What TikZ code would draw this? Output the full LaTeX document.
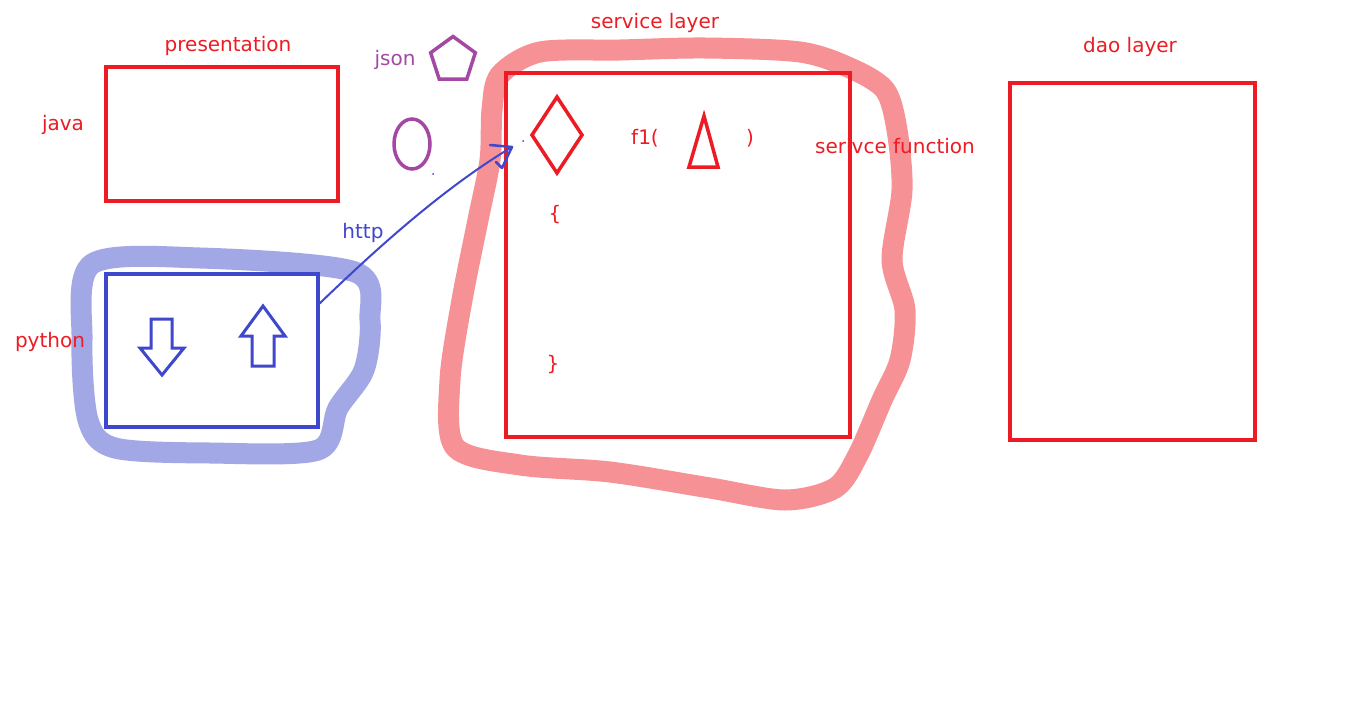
\documentclass[tikz,border=0pt]{standalone}
\usepackage{fontspec}
\setmainfont{DejaVu Sans}
\usetikzlibrary{shapes.geometric}
\definecolor{pred}{HTML}{ED1C24}
\definecolor{pblue}{HTML}{3F48CC}
\definecolor{ppurple}{HTML}{A349A4}
\begin{document}
\begin{tikzpicture}[x=1pt,y=-1pt,
  box/.style={draw=pred,line width=3.5pt},
  lbl/.style={font=\fontsize{20}{24}\selectfont,inner sep=0pt},
  rlabel/.style={lbl,text=pred},
  blabel/.style={lbl,text=pblue},
  plabel/.style={lbl,text=ppurple},
  marker/.style={line cap=round,line join=round,opacity=0.6},
  thinblue/.style={draw=pblue,line width=3pt,line join=miter}]
\useasboundingbox[fill=white] (0,0) rectangle (1360,715);

% red marker loop (service layer)
\draw[marker,draw=pred!80,line width=21pt]
  plot[smooth cycle,tension=0.5] coordinates {(492,110) (500,75) (540,52) (620,50) (705,48) (800,52) (850,68) (885,90) (897,130) (902,190) (892,260) (905,310) (900,360) (882,400) (858,455) (835,488) (785,500) (710,488) (610,472) (520,465) (455,447) (450,380) (462,300) (478,220) (490,160)};
% blue marker loop (python)
\draw[marker,draw=pblue!80,line width=21pt]
  plot[smooth cycle,tension=0.5] coordinates {(92,264) (200,258) (355,272) (370,320) (364,370) (338,408) (318,450) (210,453) (115,448) (88,420) (82,340)};

% presentation boxes
\node[box,minimum width=232pt,minimum height=134pt,inner sep=0pt] (java) at (222,134) {};
\node[draw=pblue,line width=3.5pt,minimum width=212pt,minimum height=153pt,inner sep=0pt] (python) at (212,350.5) {};
\node[box,minimum width=344pt,minimum height=364pt,inner sep=0pt] (service) at (678,255) {};
\node[box,minimum width=245pt,minimum height=357pt,inner sep=0pt] (dao) at (1132.5,261.5) {};

% labels
\node[rlabel] (tpres) at (228,46) {presentation};
\node[rlabel] (tjava) at (63,125) {java};
\node[rlabel] (tpy) at (50,342) {python};
\node[rlabel] (tserv) at (655,23) {service layer};
\node[rlabel] (tfun) at (895,146) {serivce function};
\node[rlabel] (tdao) at (1130,47) {dao layer};
\node[blabel] (thttp) at (363,233) {http};
\node[plabel] (tjson) at (395,60) {json};
\node[rlabel] (tf1) at (645,138) {f1(};
\node[rlabel] (tclose) at (750,138) {)};
\node[rlabel] (tob) at (555,215) {\{};
\node[rlabel] (tcb) at (553,365) {\}};

% purple shapes
\node[draw=ppurple,line width=3.5pt,regular polygon,regular polygon sides=5,minimum size=47pt,inner sep=0pt] (pent) at (453,60) {};
\node[draw=ppurple,line width=3.5pt,ellipse,minimum width=36pt,minimum height=50pt,inner sep=0pt] (oval) at (412,144) {};

% red shapes in service
\draw[draw=pred,line width=3.5pt,line join=miter] (557,97) -- (582,135) -- (557,173) -- (532,135) -- cycle;
\draw[draw=pred,line width=3.5pt,line join=miter] (704,116) -- (718,167) -- (689,167) -- cycle;

% blue arrows
\draw[thinblue] (151,319) -- (172,319) -- (172,348) -- (184,348) -- (162,375) -- (140,348) -- (151,348) -- cycle;
\draw[thinblue] (263,306) -- (285,336) -- (274,336) -- (274,366) -- (252,366) -- (252,336) -- (241,336) -- cycle;

% http connector
\coordinate (hs) at (318,305);
\coordinate (he) at (512,147);
\draw[draw=pblue,line width=2pt,line cap=round] (hs) .. controls (370,255) and (440,190) .. (he);
\draw[draw=pblue,line width=2.5pt,line join=round,line cap=round] (490,145) -- (he) -- (502,168) -- (496,162);
\fill[pblue] (433,174) circle (1pt);
\fill[pblue] (523,141) circle (1pt);
\end{tikzpicture}
\end{document}
